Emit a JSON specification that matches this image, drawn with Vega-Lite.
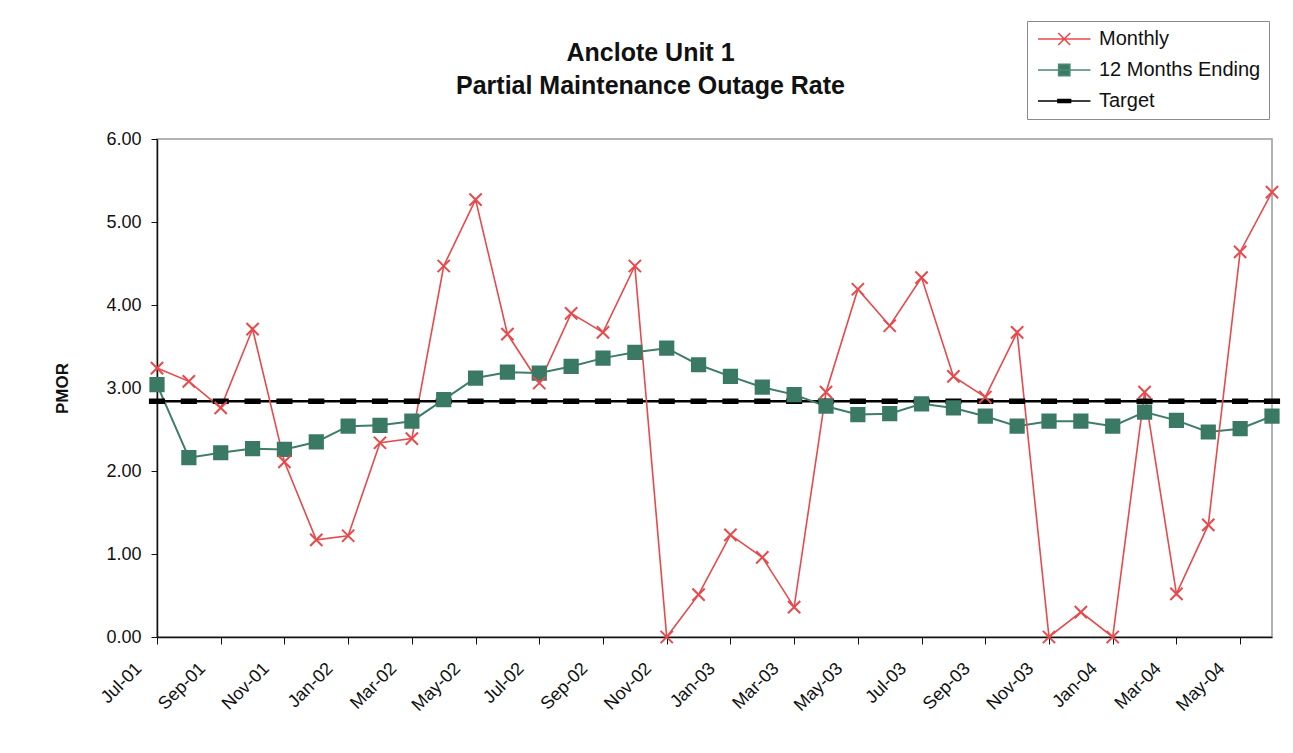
{
  "$schema": "https://vega.github.io/schema/vega-lite/v6.json",
  "width": 1115,
  "height": 498,
  "autosize": {"type": "none"},
  "padding": {"left": 157, "top": 139, "right": 21, "bottom": 116},
  "background": "white",
  "config": {
    "font": "Liberation Sans",
    "view": {"stroke": "#9a9a9a", "strokeWidth": 1.5}
  },
  "title": {
    "text": ["Anclote Unit 1", "Partial Maintenance Outage Rate"],
    "fontSize": 25,
    "fontWeight": "bold",
    "color": "#111111",
    "lineHeight": 33,
    "anchor": "middle",
    "frame": "group",
    "dx": -64,
    "offset": -78
  },
  "data": {
    "values": [
      {"month": "Jul-01", "Monthly": 3.24, "12 Months Ending": 3.04, "Target": 2.84},
      {"month": "Aug-01", "Monthly": 3.08, "12 Months Ending": 2.16, "Target": 2.84},
      {"month": "Sep-01", "Monthly": 2.76, "12 Months Ending": 2.22, "Target": 2.84},
      {"month": "Oct-01", "Monthly": 3.71, "12 Months Ending": 2.27, "Target": 2.84},
      {"month": "Nov-01", "Monthly": 2.11, "12 Months Ending": 2.26, "Target": 2.84},
      {"month": "Dec-01", "Monthly": 1.17, "12 Months Ending": 2.35, "Target": 2.84},
      {"month": "Jan-02", "Monthly": 1.22, "12 Months Ending": 2.54, "Target": 2.84},
      {"month": "Feb-02", "Monthly": 2.34, "12 Months Ending": 2.55, "Target": 2.84},
      {"month": "Mar-02", "Monthly": 2.39, "12 Months Ending": 2.60, "Target": 2.84},
      {"month": "Apr-02", "Monthly": 4.47, "12 Months Ending": 2.86, "Target": 2.84},
      {"month": "May-02", "Monthly": 5.27, "12 Months Ending": 3.12, "Target": 2.84},
      {"month": "Jun-02", "Monthly": 3.65, "12 Months Ending": 3.19, "Target": 2.84},
      {"month": "Jul-02", "Monthly": 3.06, "12 Months Ending": 3.18, "Target": 2.84},
      {"month": "Aug-02", "Monthly": 3.90, "12 Months Ending": 3.26, "Target": 2.84},
      {"month": "Sep-02", "Monthly": 3.67, "12 Months Ending": 3.36, "Target": 2.84},
      {"month": "Oct-02", "Monthly": 4.47, "12 Months Ending": 3.43, "Target": 2.84},
      {"month": "Nov-02", "Monthly": 0.0, "12 Months Ending": 3.48, "Target": 2.84},
      {"month": "Dec-02", "Monthly": 0.51, "12 Months Ending": 3.28, "Target": 2.84},
      {"month": "Jan-03", "Monthly": 1.23, "12 Months Ending": 3.14, "Target": 2.84},
      {"month": "Feb-03", "Monthly": 0.96, "12 Months Ending": 3.01, "Target": 2.84},
      {"month": "Mar-03", "Monthly": 0.36, "12 Months Ending": 2.92, "Target": 2.84},
      {"month": "Apr-03", "Monthly": 2.95, "12 Months Ending": 2.78, "Target": 2.84},
      {"month": "May-03", "Monthly": 4.19, "12 Months Ending": 2.68, "Target": 2.84},
      {"month": "Jun-03", "Monthly": 3.75, "12 Months Ending": 2.69, "Target": 2.84},
      {"month": "Jul-03", "Monthly": 4.33, "12 Months Ending": 2.81, "Target": 2.84},
      {"month": "Aug-03", "Monthly": 3.14, "12 Months Ending": 2.76, "Target": 2.84},
      {"month": "Sep-03", "Monthly": 2.89, "12 Months Ending": 2.66, "Target": 2.84},
      {"month": "Oct-03", "Monthly": 3.67, "12 Months Ending": 2.54, "Target": 2.84},
      {"month": "Nov-03", "Monthly": 0.0, "12 Months Ending": 2.60, "Target": 2.84},
      {"month": "Dec-03", "Monthly": 0.30, "12 Months Ending": 2.60, "Target": 2.84},
      {"month": "Jan-04", "Monthly": 0.0, "12 Months Ending": 2.54, "Target": 2.84},
      {"month": "Feb-04", "Monthly": 2.95, "12 Months Ending": 2.71, "Target": 2.84},
      {"month": "Mar-04", "Monthly": 0.52, "12 Months Ending": 2.61, "Target": 2.84},
      {"month": "Apr-04", "Monthly": 1.35, "12 Months Ending": 2.47, "Target": 2.84},
      {"month": "May-04", "Monthly": 4.64, "12 Months Ending": 2.51, "Target": 2.84},
      {"month": "Jun-04", "Monthly": 5.36, "12 Months Ending": 2.66, "Target": 2.84}
    ]
  },
  "transform": [
    {"fold": ["Target", "12 Months Ending", "Monthly"], "as": ["series", "value"]}
  ],
  "encoding": {
    "x": {
      "field": "month",
      "type": "ordinal",
      "sort": null,
      "scale": {"type": "point", "padding": 0},
      "axis": {
        "title": null,
        "values": ["Jul-01", "Sep-01", "Nov-01", "Jan-02", "Mar-02", "May-02", "Jul-02", "Sep-02", "Nov-02", "Jan-03", "Mar-03", "May-03", "Jul-03", "Sep-03", "Nov-03", "Jan-04", "Mar-04", "May-04"],
        "labelAngle": -45,
        "labelAlign": "right",
        "labelBaseline": "bottom",
        "labelFontSize": 18,
        "labelColor": "#111111",
        "labelPadding": 28,
        "labelOffset": -12,
        "domainColor": "#111111",
        "domainWidth": 1.5,
        "tickColor": "#111111",
        "tickSize": 7,
        "grid": false
      }
    },
    "y": {
      "field": "value",
      "type": "quantitative",
      "scale": {"domain": [0, 6], "nice": false},
      "axis": {
        "title": "PMOR",
        "titleFontSize": 17,
        "titleFontWeight": "bold",
        "titleColor": "#111111",
        "titlePadding": 34,
        "values": [0, 1, 2, 3, 4, 5, 6],
        "format": ".2f",
        "labelFontSize": 18,
        "labelColor": "#111111",
        "labelPadding": 10,
        "domainColor": "#111111",
        "domainWidth": 1.5,
        "tickColor": "#111111",
        "tickSize": 6,
        "grid": false
      }
    }
  },
  "layer": [
    {
      "mark": {"type": "line"},
      "encoding": {
        "color": {
          "field": "series",
          "type": "nominal",
          "scale": {"domain": ["Monthly", "12 Months Ending", "Target"], "range": ["#e64a4c", "#3f7d68", "#000000"]},
          "legend": null
        },
        "strokeWidth": {
          "field": "series",
          "type": "nominal",
          "scale": {"domain": ["Monthly", "12 Months Ending", "Target"], "range": [1.6, 2.4, 2]},
          "legend": null
        }
      }
    },
    {
      "mark": {"type": "point", "filled": true, "opacity": 1},
      "encoding": {
        "shape": {
          "field": "series",
          "type": "nominal",
          "scale": {"domain": ["Monthly", "12 Months Ending", "Target"], "range": ["M-1,-1L1,1M-1,1L1,-1", "M-1,-1H1V1H-1Z", "M-1,-0.25H1V0.25H-1Z"]},
          "legend": null
        },
        "size": {
          "field": "series",
          "type": "nominal",
          "scale": {"domain": ["Monthly", "12 Months Ending", "Target"], "range": [150, 200, 196]},
          "legend": null
        },
        "fill": {
          "field": "series",
          "type": "nominal",
          "scale": {"domain": ["Monthly", "12 Months Ending", "Target"], "range": ["#e64a4c", "#3a7a64", "#000000"]},
          "legend": null
        },
        "stroke": {
          "field": "series",
          "type": "nominal",
          "scale": {"domain": ["Monthly", "12 Months Ending", "Target"], "range": ["#e64a4c", "#3a7a64", "#000000"]},
          "legend": null
        }
      }
    },
    {
      "transform": [{"filter": "false"}],
      "mark": {"type": "point", "filled": true, "size": 196, "strokeWidth": 1.6, "opacity": 1},
      "encoding": {
        "shape": {
          "field": "series",
          "type": "nominal",
          "scale": {"domain": ["Monthly", "12 Months Ending", "Target"], "range": ["M-1,0H6.5M1.9,-0.85L3.6,0.85M1.9,0.85L3.6,-0.85", "M-1,0H6.5M1.95,-0.8H3.55V0.8H1.95Z", "M-1,0H6.5M1.85,-0.2H3.65V0.2H1.85Z"]},
          "legend": {
            "title": null,
            "orient": "none",
            "legendX": 870,
            "legendY": -118,
            "padding": 8,
            "strokeColor": "#8a8a8a",
            "fillColor": "white",
            "labelFontSize": 20,
            "labelColor": "#111111",
            "labelOffset": 44,
            "labelLimit": 400,
            "rowPadding": 11,
            "symbolSize": 196,
            "symbolStrokeWidth": 1.6,
            "symbolOpacity": 1
          }
        },
        "fill": {
          "field": "series",
          "type": "nominal",
          "scale": {"domain": ["Monthly", "12 Months Ending", "Target"], "range": ["#e64a4c", "#3a7a64", "#000000"]},
          "legend": {
            "title": null,
            "orient": "none",
            "legendX": 870,
            "legendY": -118,
            "padding": 8,
            "strokeColor": "#8a8a8a",
            "fillColor": "white",
            "labelFontSize": 20,
            "labelColor": "#111111",
            "labelOffset": 44,
            "labelLimit": 400,
            "rowPadding": 11,
            "symbolSize": 196,
            "symbolStrokeWidth": 1.6,
            "symbolOpacity": 1
          }
        },
        "stroke": {
          "field": "series",
          "type": "nominal",
          "scale": {"domain": ["Monthly", "12 Months Ending", "Target"], "range": ["#e64a4c", "#4a8a74", "#000000"]},
          "legend": {
            "title": null,
            "orient": "none",
            "legendX": 870,
            "legendY": -118,
            "padding": 8,
            "strokeColor": "#8a8a8a",
            "fillColor": "white",
            "labelFontSize": 20,
            "labelColor": "#111111",
            "labelOffset": 44,
            "labelLimit": 400,
            "rowPadding": 11,
            "symbolSize": 196,
            "symbolStrokeWidth": 1.6,
            "symbolOpacity": 1
          }
        }
      }
    }
  ],
  "resolve": {
    "scale": {"shape": "independent", "fill": "independent", "stroke": "independent"},
    "legend": {"shape": "independent", "fill": "independent", "stroke": "independent"}
  }
}
